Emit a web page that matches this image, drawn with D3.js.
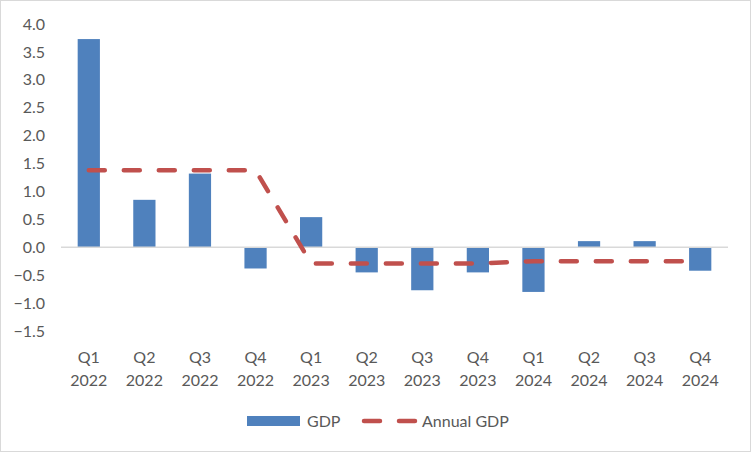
<!DOCTYPE html>
<html><head><meta charset="utf-8">
<script src="https://cdn.jsdelivr.net/npm/d3@7"></script>
<style>body{margin:0;background:#fff}svg{display:block}text{font-family:Lato,"Open Sans",sans-serif;fill:#595959}</style>
</head><body><svg id="c" width="751" height="452"></svg>
<script>
const quarters = ["Q1","Q2","Q3","Q4","Q1","Q2","Q3","Q4","Q1","Q2","Q3","Q4"];
const years = ["2022","2022","2022","2022","2023","2023","2023","2023","2024","2024","2024","2024"];
const gdp = [3.73, 0.85, 1.32, -0.38, 0.54, -0.45, -0.77, -0.45, -0.80, 0.11, 0.11, -0.42];
const annualGdp = [1.38, 1.38, 1.38, 1.38, -0.29, -0.29, -0.29, -0.29, -0.25, -0.25, -0.25, -0.25];
const yTicks = [4.0, 3.5, 3.0, 2.5, 2.0, 1.5, 1.0, 0.5, 0.0, -0.5, -1.0, -1.5];

const svg = d3.select("#c");
svg.append("rect").attr("x",0.5).attr("y",0.5).attr("width",750).attr("height",451)
  .attr("fill","#fff").attr("stroke","#D9D9D9");

const idx = d3.range(gdp.length);
const x = d3.scaleBand().domain(idx).range([61, 728]).paddingInner(0.6).paddingOuter(0.3);
const y = d3.scaleLinear().domain([-1.5, 4.0]).range([331, 24]);

// y axis labels
const yAxis = d3.axisLeft(y).tickValues(yTicks).tickFormat(d3.format(".1f")).tickSize(0).tickPadding(0);
const ya = svg.append("g").attr("transform","translate(45,0)").call(yAxis);
ya.select(".domain").remove();
ya.selectAll("text").attr("font-size",16).style("fill","#595959").style("font-family","Lato,'Open Sans',sans-serif");

// bars
svg.append("g").selectAll("rect").data(gdp).join("rect")
  .attr("x",(d,i)=>x(i)).attr("width",x.bandwidth())
  .attr("y",d=>y(Math.max(0,d))).attr("height",d=>Math.abs(y(d)-y(0)))
  .attr("fill","#4F81BD");

// zero line
svg.append("line").attr("x1",61).attr("x2",728).attr("y1",y(0)).attr("y2",y(0))
  .attr("stroke","#D9D9D9").attr("stroke-width",1.5);

// annual line
const cx = i => x(i) + x.bandwidth()/2;
svg.append("path").datum(annualGdp)
  .attr("d", d3.line().x((d,i)=>cx(i)).y(d=>y(d)))
  .attr("fill","none").attr("stroke","#C0504D").attr("stroke-width",4.5)
  .attr("stroke-linecap","round").attr("stroke-dasharray","16,19");

// x labels
const xl = svg.append("g");
xl.selectAll("text.q").data(quarters).join("text").attr("class","q")
  .attr("x",(d,i)=>cx(i)).attr("y",363).attr("text-anchor","middle").attr("font-size",16).text(d=>d);
xl.selectAll("text.yr").data(years).join("text").attr("class","yr")
  .attr("x",(d,i)=>cx(i)).attr("y",386).attr("text-anchor","middle").attr("font-size",16).text(d=>d);

// legend
const lg = svg.append("g");
lg.append("rect").attr("x",247).attr("y",416).attr("width",53).attr("height",10).attr("fill","#4F81BD");
lg.append("text").attr("x",307).attr("y",427).attr("font-size",16).text("GDP");
lg.append("line").attr("x1",364).attr("x2",415).attr("y1",421).attr("y2",421)
  .attr("stroke","#C0504D").attr("stroke-width",4.5).attr("stroke-linecap","round").attr("stroke-dasharray","16,19");
lg.append("text").attr("x",422).attr("y",427).attr("font-size",16).text("Annual GDP");
</script></body></html>
